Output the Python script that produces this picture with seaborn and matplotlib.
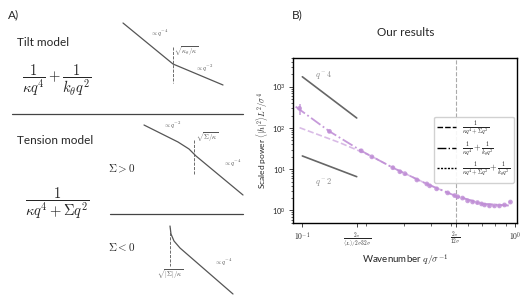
import numpy as np
import pandas as pd
import matplotlib
matplotlib.use("Agg")
import matplotlib.pyplot as plt
from matplotlib.lines import Line2D
import seaborn as sns

sns.set_style("ticks")
plt.rcParams["font.family"] = ["Lato", "DejaVu Sans"]
plt.rcParams["mathtext.fontset"] = "cm"

q = [0.097, 0.134, 0.189, 0.212, 0.266, 0.287, 0.303, 0.345, 0.384, 0.396, 0.427,
     0.481, 0.519, 0.536, 0.565, 0.597, 0.630, 0.664, 0.694, 0.717, 0.756, 0.798,
     0.842, 0.889, 0.948]
power = [300, 83, 28, 20, 10.9, 8.7, 7.8, 5.5, 4.4, 3.96, 3.35,
         2.67, 2.3, 2.15, 2.0, 1.71, 1.61, 1.55, 1.44, 1.36, 1.29, 1.29,
         1.29, 1.36, 1.6]
err = [90, 8, 2.5, 1.5, 0.8, 0.6, 0.5, 0.35, 0.25, 0.22, 0.18,
       0.14, 0.12, 0.11, 0.1, 0.09, 0.08, 0.08, 0.07, 0.07, 0.06, 0.06,
       0.06, 0.07, 0.08]

# fitted curves
fit_q = [0.093, 0.134, 0.189, 0.266, 0.384, 0.519, 0.70, 0.93]
tilt_fit = [330, 83, 28, 10.9, 4.4, 2.3, 1.45, 1.32]
tension_q = [0.097, 0.15, 0.21, 0.266, 0.384, 0.519, 0.70, 0.93]
tension_fit = [102, 44, 21, 10.9, 4.4, 2.3, 1.45, 1.32]

# guide slopes
guide_q = [0.1, 0.18]
guide_q4 = [1750, 175]
guide_q2 = [21, 6.6]

xticks = [0.1, 0.181, 0.524, 1.0]
xticklabels = [r"$10^{-1}$", r"$\frac{2\pi}{\langle L\rangle/2\sigma\,32\sigma}$",
               r"$\frac{2\pi}{12\sigma}$", r"$10^{0}$"]

# schematic sketches in panel A (pixel coords)
tilt_x = [123, 173, 223]
tilt_y = [23, 64, 85]
tensp_x = [144, 178, 189, 196, 243]
tensp_y = [125, 142, 149, 156, 195]
tensn_x = [170, 171, 174, 180, 233]
tensn_y = [226, 234, 241, 248, 294]

purple = "#c08fd6"
gray = "#555555"

fig = plt.figure(figsize=(5.31, 3.02), dpi=100)

# ---- panel A ----
axa = fig.add_axes([0, 0, 1, 1])
axa.set_xlim(0, 531)
axa.set_ylim(302, 0)
axa.axis("off")

axa.text(8, 15, "A)", fontsize=8.5, va="center")
axa.text(17, 43, "Tilt model", fontsize=8.5, va="center")
axa.text(57, 80, r"$\dfrac{1}{\kappa q^4}+\dfrac{1}{k_\theta q^2}$", fontsize=10.5, ha="center", va="center")
axa.plot([12, 243], [114, 114], color="#444444", lw=0.9)
axa.text(17, 140, "Tension model", fontsize=8.5, va="center")
axa.text(57, 203, r"$\dfrac{1}{\kappa q^4+\Sigma q^2}$", fontsize=10.5, ha="center", va="center")
axa.plot([110, 243], [214, 214], color="#444444", lw=0.9)
axa.text(122, 169, r"$\Sigma>0$", fontsize=8, ha="center", va="center")
axa.text(122, 247, r"$\Sigma<0$", fontsize=8, ha="center", va="center")

axa.plot(tilt_x, tilt_y, color=gray, lw=0.9)
axa.plot([173, 173], [47, 83], color=gray, lw=0.6, ls="--")
axa.text(150, 33, r"$\propto q^{-4}$", fontsize=4.8, color=gray, ha="left", va="center")
axa.text(174, 51, r"$\sqrt{\kappa_\theta/\kappa}$", fontsize=4.8, color=gray, ha="left", va="center")
axa.text(195, 68, r"$\propto q^{-2}$", fontsize=4.8, color=gray, ha="left", va="center")

axa.plot(tensp_x, tensp_y, color=gray, lw=0.9)
axa.plot([194, 194], [140, 174], color=gray, lw=0.6, ls="--")
axa.text(163, 125, r"$\propto q^{-2}$", fontsize=4.8, color=gray, ha="left", va="center")
axa.text(196, 137, r"$\sqrt{\Sigma/\kappa}$", fontsize=4.8, color=gray, ha="left", va="center")
axa.text(223, 163, r"$\propto q^{-4}$", fontsize=4.8, color=gray, ha="left", va="center")

axa.plot(tensn_x, tensn_y, color=gray, lw=0.9)
axa.plot([170, 170], [228, 266], color=gray, lw=0.6, ls="--")
axa.text(170, 274, r"$\sqrt{|\Sigma|/\kappa}$", fontsize=4.8, color=gray, ha="center", va="center")
axa.text(214, 262, r"$\propto q^{-4}$", fontsize=4.8, color=gray, ha="left", va="center")

axa.text(292, 15, "B)", fontsize=8.5, va="center")
axa.text(406, 33, "Our results", fontsize=8.5, ha="center", va="center")

# ---- panel B ----
ax = fig.add_axes([0.552, 0.262, 0.422, 0.546])
ax.set_xscale("log")
ax.set_yscale("log")

df = pd.DataFrame({"q": q, "power": power})
ax.errorbar(q, power, yerr=err, fmt="none", ecolor=purple, elinewidth=1.2, alpha=0.8)
sns.scatterplot(data=df, x="q", y="power", ax=ax, color=purple, s=12,
                edgecolor="none", alpha=0.85, zorder=3)
ax.plot(fit_q, tilt_fit, color=purple, ls="-.", lw=1.3, alpha=0.9)
ax.plot(tension_q, tension_fit, color=purple, ls="--", lw=1.2, alpha=0.6)

ax.plot(guide_q, guide_q4, color="#666666", lw=1.2)
ax.plot(guide_q, guide_q2, color="#666666", lw=1.2)
ax.text(0.115, 1900, r"$q^-4$", fontsize=6, color="#888888", ha="left", va="center")
ax.text(0.115, 5.0, r"$q^-2$", fontsize=6, color="#888888", ha="left", va="center")

ax.axvline(0.524, color="#aaaaaa", ls="--", lw=0.8)

ax.set_xlim(0.0905, 1.02)
ax.set_ylim(0.5, 5000)
ax.set_xticks(xticks)
ax.set_xticklabels(xticklabels)
ax.tick_params(axis="both", labelsize=5.5, length=3, width=0.6, pad=2)
ax.tick_params(which="minor", length=1.8, width=0.5)
for s in ax.spines.values():
    s.set_linewidth(1.0)
    s.set_color("black")

ax.set_xlabel(r"Wavenumber $q/\sigma^{-1}$", fontsize=7, labelpad=3)
ax.set_ylabel(r"Scaled power $\langle|h|^2\rangle L^2/\sigma^4$", fontsize=6, labelpad=2)

handles = [Line2D([], [], color="black", ls=(0, (4, 1.5)), lw=1),
           Line2D([], [], color="black", ls="-.", lw=1),
           Line2D([], [], color="black", ls=(0, (1.5, 1)), lw=1)]
labels = [r"$\frac{1}{\kappa q^4+\Sigma q^2}$",
          r"$\frac{1}{\kappa q^4}+\frac{1}{k_\theta q^2}$",
          r"$\frac{1}{\kappa q^4+\Sigma q^2}+\frac{1}{k_\theta q^2}$"]
ax.legend(handles, labels, loc="upper right", bbox_to_anchor=(0.985, 0.645),
          borderaxespad=0, fontsize=6, handlelength=2.2, labelspacing=0.3,
          frameon=True, fancybox=True, framealpha=0.9, edgecolor="#cccccc")

fig.savefig("out.png", dpi=100)
